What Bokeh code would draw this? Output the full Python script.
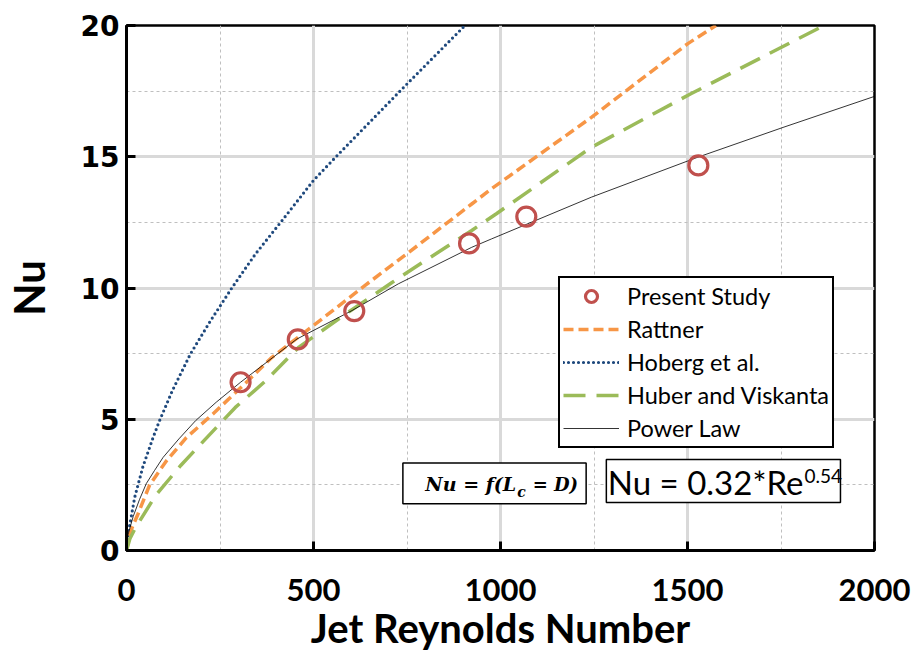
from bokeh.plotting import figure
from bokeh.models import FixedTicker, Legend, LegendItem, Label, BoxAnnotation, Range1d
from bokeh.embed import file_html
from bokeh.resources import INLINE

# ---------------- data ----------------
study_re = [305, 458, 609, 916, 1069, 1529]
study_nu = [6.41, 8.04, 9.12, 11.70, 12.72, 14.67]

rattner_re = [0, 10, 31, 62, 106, 160, 231, 283, 320, 389, 500, 638, 754, 923, 976, 1243, 1500, 1576]
rattner_nu = [0, 0.70, 1.40, 2.50, 3.40, 4.30, 5.20, 5.90, 6.40, 7.36, 8.57, 10.10, 11.35, 13.20, 13.78, 16.50, 19.30, 20.0]

hoberg_re = [0, 4.5, 22, 44, 71, 87, 123, 171, 225, 283, 345, 416, 500, 567, 656, 745, 905]
hoberg_nu = [0, 0.64, 2.03, 3.20, 4.30, 4.90, 6.10, 7.49, 8.76, 10.03, 11.30, 12.57, 14.10, 15.10, 16.40, 17.70, 20.0]

huber_re = [0, 9, 25, 78, 145, 216, 291, 371, 461, 585, 709, 789, 923, 989, 1243, 1509, 1865]
huber_nu = [0, 0.45, 0.89, 2.10, 3.24, 4.32, 5.45, 6.45, 7.75, 9.00, 10.20, 10.95, 12.19, 12.83, 15.36, 17.40, 20.0]

power_re = [0, 4, 18, 35, 53, 75, 98, 140, 185, 240, 305, 456, 603, 727, 923, 976, 1243, 1527, 1758, 2000]
power_nu = [0, 0.60, 1.30, 1.95, 2.55, 3.05, 3.55, 4.25, 4.95, 5.65, 6.41, 8.06, 9.14, 10.16, 11.55, 11.87, 13.46, 14.98, 16.13, 17.30]

x_ticks = [0, 500, 1000, 1500, 2000]
x_minor = [250, 750, 1250, 1750]
y_ticks = [0, 5, 10, 15, 20]
y_minor = [2.5, 7.5, 12.5, 17.5]

# ---------------- figure ----------------
p = figure(width=911, height=669, output_backend="svg", toolbar_location=None,
           x_range=Range1d(0, 2000), y_range=Range1d(0, 20),
           min_border_left=124, min_border_right=37, min_border_top=25, min_border_bottom=119)
p.background_fill_color = "white"
p.border_fill_color = "white"
p.outline_line_color = "black"
p.outline_line_width = 2.5
p.outline_line_alpha = 1.0

p.xaxis.ticker = FixedTicker(ticks=x_ticks, minor_ticks=x_minor)
p.yaxis.ticker = FixedTicker(ticks=y_ticks, minor_ticks=y_minor)

for g in (p.xgrid, p.ygrid):
    g.grid_line_color = "#D9D9D9"
    g.grid_line_width = 3
    g.minor_grid_line_color = "#BFBFBF"
    g.minor_grid_line_width = 1
    g.minor_grid_line_dash = "3 3"

for ax in (p.xaxis, p.yaxis):
    ax.axis_line_color = "black"
    ax.axis_line_width = 3
    ax.major_tick_in = 9
    ax.major_tick_out = 0
    ax.major_tick_line_width = 3
    ax.major_tick_line_color = "black"
    ax.minor_tick_in = 0
    ax.minor_tick_out = 0
    ax.major_label_text_color = "black"
    ax.axis_label_text_color = "black"
    ax.axis_label_text_font_style = "bold"
    ax.major_label_text_font_style = "bold"

p.xaxis.major_label_text_font = "Lato"
p.xaxis.major_label_text_font_size = "31px"
p.xaxis.major_label_standoff = 28
p.xaxis.axis_label = "Jet Reynolds Number"
p.xaxis.axis_label_text_font = "Lato"
p.xaxis.axis_label_text_font_size = "40px"
p.xaxis.axis_label_standoff = 0

p.yaxis.major_label_text_font = "DejaVu Sans"
p.yaxis.major_label_text_font_size = "28px"
p.yaxis.major_label_standoff = 7
p.yaxis.axis_label = "Nu"
p.yaxis.axis_label_text_font = "Lato"
p.yaxis.axis_label_text_font_size = "42px"
p.yaxis.axis_label_standoff = 24

# ---------------- glyphs ----------------
r_hob = p.line(hoberg_re, hoberg_nu, line_color="#1F497D", line_width=3.2,
               line_dash="0 5", line_cap="round")
r_rat = p.line(rattner_re, rattner_nu, line_color="#F79646", line_width=3.5,
               line_dash="10 5")
r_hub = p.line(huber_re, huber_nu, line_color="#9BBB59", line_width=3.5,
               line_dash="22 11")
r_pow = p.line(power_re, power_nu, line_color="black", line_width=0.8)
r_std = p.scatter(study_re, study_nu, marker="circle", size=19, fill_color=None,
                  line_color="#C0504D", line_width=3.2)

# ---------------- legend ----------------
legend = Legend(items=[
    LegendItem(label="Present Study", renderers=[r_std]),
    LegendItem(label="Rattner", renderers=[r_rat]),
    LegendItem(label="Hoberg et al.", renderers=[r_hob]),
    LegendItem(label="Huber and Viskanta", renderers=[r_hub]),
    LegendItem(label="Power Law", renderers=[r_pow]),
], location=(432, 102))
legend.margin = 0
legend.padding = 3
legend.spacing = 3
legend.glyph_width = 56
legend.glyph_height = 30
legend.label_height = 30
legend.label_standoff = 8
legend.label_text_font = "Lato"
legend.label_text_font_size = "23.5px"
legend.label_text_color = "black"
legend.border_line_color = "black"
legend.border_line_width = 2
legend.border_line_alpha = 1.0
legend.background_fill_color = "white"
legend.background_fill_alpha = 1.0
p.add_layout(legend, "center")

# ---------------- formula boxes ----------------
p.add_layout(BoxAnnotation(left=739, right=1229, bottom=1.78, top=3.33,
                           fill_color="white", fill_alpha=1.0,
                           line_color="black", line_alpha=1.0, line_width=1.5))
p.add_layout(BoxAnnotation(left=1283, right=1909, bottom=1.83, top=3.47,
                           fill_color="white", fill_alpha=1.0,
                           line_color="black", line_alpha=1.0, line_width=1.5))

serif = "DejaVu Serif"
p.add_layout(Label(x=1042, y=2.12, text="Nu = f(L", text_align="right",
                   text_font=serif, text_font_style="bold italic",
                   text_font_size="19px", text_color="black"))
p.add_layout(Label(x=1045, y=1.94, text="c", text_align="left",
                   text_font=serif, text_font_style="bold italic",
                   text_font_size="14px", text_color="black"))
p.add_layout(Label(x=1086, y=2.12, text="= D)", text_align="left",
                   text_font=serif, text_font_style="bold italic",
                   text_font_size="18px", text_color="black"))

p.add_layout(Label(x=1810, y=1.84, text="Nu = 0.32*Re", text_align="right",
                   text_font="Lato", text_font_size="33px", text_color="black"))
p.add_layout(Label(x=1813, y=2.56, text="0.54", text_align="left",
                   text_font="Lato", text_font_size="19px", text_color="black"))

open("out.html", "w").write(file_html(p, INLINE))
